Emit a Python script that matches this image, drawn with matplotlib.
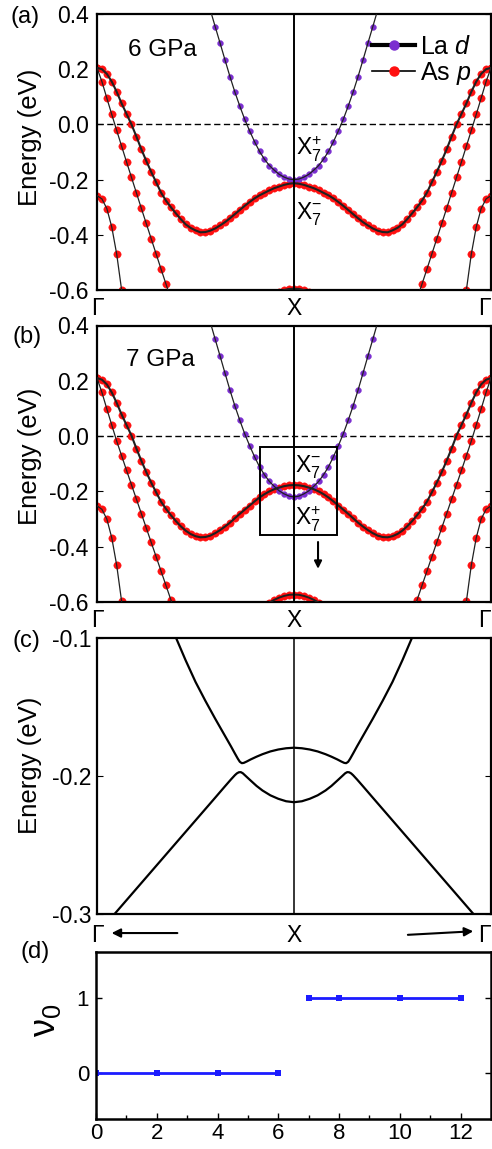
import numpy as np
import matplotlib
matplotlib.use('Agg')
import matplotlib.pyplot as plt
from matplotlib.lines import Line2D
from matplotlib.patches import Rectangle

plt.rcParams['font.family'] = ['Liberation Sans', 'DejaVu Sans']
plt.rcParams['mathtext.fontset'] = 'custom'
plt.rcParams['mathtext.rm'] = 'Liberation Sans'
plt.rcParams['mathtext.it'] = 'Liberation Sans:italic'
plt.rcParams['mathtext.bf'] = 'Liberation Sans:bold'
plt.rcParams['axes.unicode_minus'] = False

# ---------------- data ----------------
# k grid: distance from the anchor point (X or Gamma) in units of |Gamma-X|, step 0.025
k_step = 0.025
path_labels = ['Γ', 'X', 'Γ']
energy_ticks = [0.4, 0.2, 0.0, -0.2, -0.4, -0.6]
energy_ticklabels = ['0.4', '0.2', '0.0', '-0.2', '-0.4', '-0.6']

# (a) 6 GPa  -- bands anchored at X (values from X outward)
a_La_d = [-0.200, -0.198, -0.191, -0.181, -0.166, -0.149, -0.126, -0.098, -0.063,
          -0.024, 0.018, 0.066, 0.117, 0.173, 0.233, 0.294, 0.354, 0.415]
a_As_p_main = [-0.213, -0.215, -0.219, -0.225, -0.231, -0.239, -0.248, -0.257, -0.268,
               -0.281, -0.295, -0.310, -0.325, -0.340, -0.354, -0.366, -0.377, -0.385,
               -0.390, -0.391, -0.384, -0.375, -0.362, -0.343, -0.322, -0.300, -0.276,
               -0.247, -0.209, -0.172, -0.132, -0.090, -0.044, 0.000, 0.038, 0.076,
               0.118, 0.155, 0.183, 0.200, 0.205]
a_As_p_deep = [-0.595, -0.596, -0.600, -0.606, -0.614, -0.625]
# bands anchored at Gamma (values from Gamma inward)
a_As_p_steep = [0.205, 0.155, 0.095, 0.036, -0.022, -0.079, -0.136, -0.192, -0.248,
                -0.304, -0.359, -0.414, -0.469, -0.524, -0.578, -0.632]
a_As_p_low = [-0.258, -0.270, -0.305, -0.372, -0.470, -0.600, -0.750]

# (b) 7 GPa
b_La_d = [-0.220, -0.217, -0.209, -0.198, -0.182, -0.164, -0.140, -0.111, -0.075,
          -0.035, 0.008, 0.057, 0.109, 0.166, 0.227, 0.289, 0.350, 0.412]
b_As_p_main = [-0.177, -0.178, -0.181, -0.186, -0.192, -0.200, -0.210, -0.222, -0.236,
               -0.251, -0.266, -0.281, -0.297, -0.313, -0.327, -0.340, -0.351, -0.360,
               -0.365, -0.366, -0.362, -0.354, -0.342, -0.326, -0.307, -0.286, -0.263,
               -0.237, -0.203, -0.168, -0.130, -0.089, -0.045, 0.002, 0.040, 0.078,
               0.120, 0.158, 0.187, 0.204, 0.210]
b_As_p_deep = [-0.573, -0.574, -0.578, -0.584, -0.592, -0.602, -0.615, -0.630]
b_As_p_steep = [0.210, 0.158, 0.098, 0.040, -0.018, -0.071, -0.124, -0.176, -0.228,
                -0.280, -0.332, -0.384, -0.436, -0.488, -0.540, -0.592, -0.644]
b_As_p_low = [-0.252, -0.265, -0.300, -0.368, -0.467, -0.598, -0.750]

# (c) zoom near X (left half, mirrored)
c_upper_k = [-0.62, -0.60, -0.55, -0.50, -0.45, -0.40, -0.35, -0.32, -0.30, -0.285, -0.275,
             -0.265, -0.255, -0.24, -0.22, -0.19, -0.16, -0.12, -0.08, -0.04, 0.0]
c_upper_E = [-0.093, -0.0995, -0.1162, -0.1318, -0.1455, -0.1585, -0.1710, -0.1785, -0.1837,
             -0.1875, -0.1897, -0.1907, -0.1905, -0.1895, -0.1880, -0.1860, -0.1842,
             -0.1822, -0.1808, -0.1799, -0.1795]
c_lower_k = [-0.95, -0.90, -0.80, -0.70, -0.60, -0.50, -0.40, -0.35, -0.32, -0.30, -0.29,
             -0.28, -0.27, -0.26, -0.245, -0.22, -0.19, -0.16, -0.12, -0.08, -0.04, 0.0]
c_lower_E = [-0.3064, -0.2982, -0.2817, -0.2652, -0.2487, -0.2322, -0.2157, -0.2074, -0.2025,
             -0.1994, -0.1981, -0.1973, -0.1972, -0.1980, -0.2000, -0.2033, -0.2072,
             -0.2105, -0.2140, -0.2165, -0.2183, -0.2190]

# (d) topological invariant
d_x0 = [0, 2, 4, 6]
d_y0 = [0, 0, 0, 0]
d_x1 = [7, 8, 10, 12]
d_y1 = [1, 1, 1, 1]

PURPLE = '#7b2fd0'
RED = '#ff1010'
LINEC = '#202020'
FS = 16.5

# ---------------- figure ----------------
fig = plt.figure(figsize=(4.92, 11.49), dpi=100)
W, H = 492.0, 1149.0

def axes_px(left, top, right, bottom):
    return fig.add_axes([left / W, 1 - bottom / H, (right - left) / W, (bottom - top) / H])

ax_a = axes_px(97, 14, 491, 290)
ax_b = axes_px(97, 325.5, 491, 602)
ax_c = axes_px(97, 638, 491, 914)
ax_d = axes_px(96, 952, 491, 1119)


def mirror_from_X(vals):
    E = np.asarray(vals)
    k = np.arange(len(E)) * k_step
    return np.concatenate([-k[::-1], k[1:]]), np.concatenate([E[::-1], E[1:]])


def draw_band_X(ax, vals, color, ms, lw):
    x, y = mirror_from_X(vals)
    ax.plot(x, y, linestyle='none', marker='o', ms=ms, mfc=color, mec=color, mew=0.3, zorder=2)
    ax.plot(x, y, color=LINEC, lw=lw, zorder=3)


def draw_band_G(ax, vals, color, ms, lw):
    E = np.asarray(vals)
    k = np.arange(len(E)) * k_step
    for x in (-1 + k, 1 - k):
        ax.plot(x, E, linestyle='none', marker='o', ms=ms, mfc=color, mec=color, mew=0.3, zorder=2)
        ax.plot(x, E, color=LINEC, lw=lw, zorder=3)


def style_path_xaxis(ax, pad):
    ax.set_xlim(-1, 1)
    ax.set_xticks([-1, 0, 1])
    ax.set_xticklabels(path_labels)
    ax.tick_params(axis='x', length=0, pad=pad, labelsize=FS)
    labs = ax.get_xticklabels()
    labs[-1].set_horizontalalignment('right')


def style_band_axes(ax):
    style_path_xaxis(ax, 5)
    ax.set_ylim(-0.6, 0.4)
    ax.set_yticks(energy_ticks)
    ax.set_yticklabels(energy_ticklabels)
    ax.tick_params(axis='y', direction='in', length=4, width=0.8, right=True,
                   labelsize=FS, pad=6)
    for s in ax.spines.values():
        s.set_linewidth(1.6)
    ax.axvline(0, color='k', lw=1.4, zorder=4)
    ax.axhline(0, color='k', lw=1.0, linestyle=(0, (4.5, 2.5)), zorder=1)
    ax.set_ylabel('Energy (eV)', fontsize=18.5)


for ax, ladd, main, deep, steep, low in (
        (ax_a, a_La_d, a_As_p_main, a_As_p_deep, a_As_p_steep, a_As_p_low),
        (ax_b, b_La_d, b_As_p_main, b_As_p_deep, b_As_p_steep, b_As_p_low)):
    style_band_axes(ax)
    draw_band_G(ax, low, RED, 5.3, 0.9)
    draw_band_G(ax, steep, RED, 5.3, 0.9)
    draw_band_X(ax, deep, RED, 5.3, 1.4)
    draw_band_X(ax, main, RED, 5.3, 1.5)
    draw_band_X(ax, ladd, PURPLE, 4.2, 0.9)

ax_a.yaxis.set_label_coords(-0.14, 0.554)
ax_b.yaxis.set_label_coords(-0.14, 0.528)

ax_a.text(-0.843, 0.27, '6 GPa', fontsize=17.5, va='center', ha='left')
ax_b.text(-0.852, 0.277, '7 GPa', fontsize=17.5, va='center', ha='left')

ax_a.text(0.01, -0.111, r'$\mathrm{X}_{7}^{+}$', fontsize=FS, va='baseline', ha='left', zorder=6)
ax_a.text(0.01, -0.346, r'$\mathrm{X}_{7}^{-}$', fontsize=FS, va='baseline', ha='left', zorder=6)
ax_b.text(0.005, -0.132, r'$\mathrm{X}_{7}^{-}$', fontsize=FS, va='baseline', ha='left', zorder=6)
ax_b.text(0.005, -0.325, r'$\mathrm{X}_{7}^{+}$', fontsize=FS, va='baseline', ha='left', zorder=6)

handles = [Line2D([], [], color='k', lw=3.0, marker='o', ms=6.5, mfc=PURPLE, mec=PURPLE),
           Line2D([], [], color='k', lw=1.2, marker='o', ms=6.5, mfc=RED, mec=RED)]
ax_a.legend(handles, [r'La $d$', r'As $p$'], loc='upper left', bbox_to_anchor=(0.698, 0.924),
            frameon=False, fontsize=18, handlelength=1.72, handletextpad=0.2,
            labelspacing=0.05, borderpad=0, borderaxespad=0, numpoints=1)

# zoom box and arrow in (b)
ax_b.add_patch(Rectangle((-0.173, -0.358), 0.391, 0.318, fill=False, ec='k', lw=1.4, zorder=5))
ax_b.annotate('', xy=(0.122, -0.49), xytext=(0.122, -0.373),
              arrowprops=dict(arrowstyle='-|>', color='k', lw=1.5, mutation_scale=11))

# (c)
style_path_xaxis(ax_c, 7)
ax_c.set_ylim(-0.3, -0.1)
ax_c.set_yticks([-0.1, -0.2, -0.3])
ax_c.set_yticklabels(['-0.1', '-0.2', '-0.3'])
ax_c.tick_params(axis='y', direction='in', length=4, width=0.8, right=True, labelsize=FS, pad=4)
for s in ax_c.spines.values():
    s.set_linewidth(1.6)
ax_c.axvline(0, color='k', lw=1.1)
for kk, ee in ((c_upper_k, c_upper_E), (c_lower_k, c_lower_E)):
    kk = np.asarray(kk)
    ee = np.asarray(ee)
    ax_c.plot(np.concatenate([kk, -kk[::-1][1:]]), np.concatenate([ee, ee[::-1][1:]]),
              color='k', lw=1.6, solid_joinstyle='round')
ax_c.set_ylabel('Energy (eV)', fontsize=18.5)
ax_c.yaxis.set_label_coords(-0.14, 0.54)
ax_c.annotate('', xy=(0.030, -0.069), xytext=(0.211, -0.069), xycoords='axes fraction',
              arrowprops=dict(arrowstyle='-|>', color='k', lw=1.5, mutation_scale=13),
              annotation_clip=False)
ax_c.annotate('', xy=(0.962, -0.062), xytext=(0.782, -0.076), xycoords='axes fraction',
              arrowprops=dict(arrowstyle='-|>', color='k', lw=1.5, mutation_scale=13),
              annotation_clip=False)

# (d)
ax_d.plot(d_x0, d_y0, '-s', color='#1c1cff', lw=2.0, ms=4.0, mew=0)
ax_d.plot(d_x1, d_y1, '-s', color='#1c1cff', lw=2.0, ms=4.0, mew=0)
ax_d.set_xlim(0, 13)
ax_d.set_ylim(-0.6, 1.6)
ax_d.set_xticks([0, 2, 4, 6, 8, 10, 12])
ax_d.set_xticks([1, 3, 5, 7, 9, 11], minor=True)
ax_d.set_yticks([0, 1])
ax_d.tick_params(axis='both', which='major', direction='in', length=4, width=1.0,
                 right=True, labelsize=16)
ax_d.tick_params(axis='x', which='minor', direction='in', length=3, width=1.0)
ax_d.tick_params(axis='x', pad=3)
ax_d.tick_params(axis='y', pad=5)
for s in ax_d.spines.values():
    s.set_linewidth(1.8)
ax_d.set_ylabel(r'$\mathrm{\nu}_{0}$', fontsize=26)
ax_d.yaxis.set_label_coords(-0.084, 0.59)

# panel letters
for txt, px, py in (('(a)', 10, 17), ('(b)', 12, 337), ('(c)', 13, 641), ('(d)', 20, 952)):
    fig.text(px / W, 1 - py / H, txt, fontsize=17, ha='left', va='center')

fig.savefig('out.png', dpi=100)
